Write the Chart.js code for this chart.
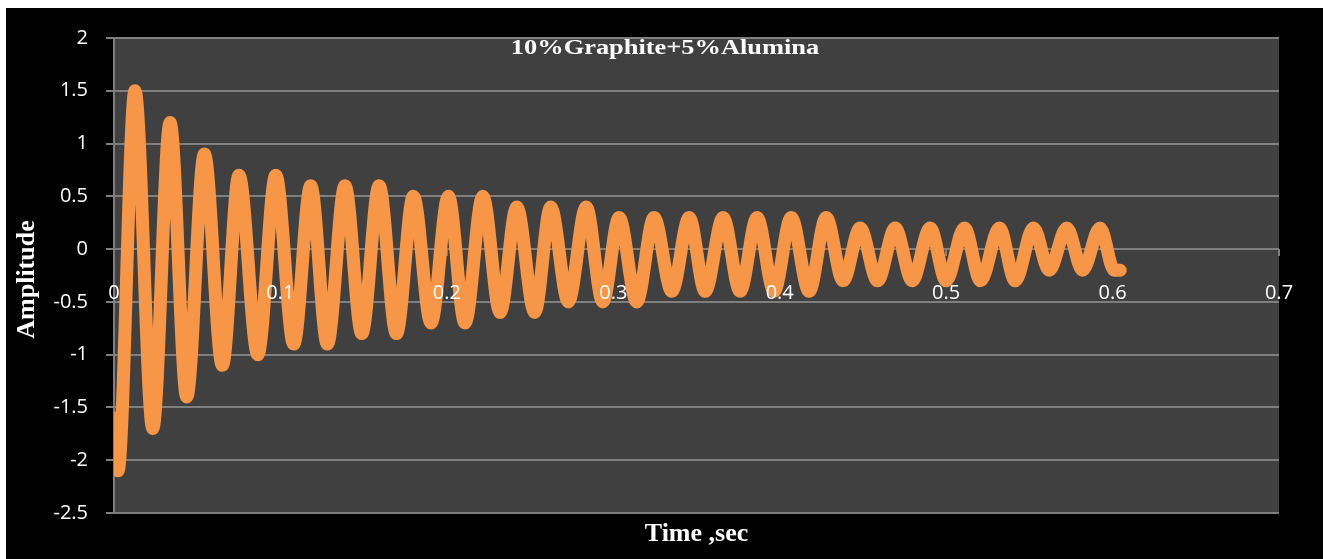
<!DOCTYPE html>
<html>
<head>
<meta charset="utf-8">
<script src="https://cdn.jsdelivr.net/npm/chart.js@4.4.1/dist/chart.umd.min.js"></script>
<style>
    body { margin: 0; background: #ffffff; }
    #wrap { position: absolute; left: 6px; top: 8px; width: 1317px; height: 551px; background: #000000; }
    canvas { display: block; }
</style>
</head>
<body>
<div id="wrap"><canvas id="chart" width="1317" height="551"></canvas></div>
<script>
// time (sec) of each peak / trough
const times = [0, 0.0024, 0.0126, 0.0233, 0.0337, 0.0437, 0.0543, 0.0651, 0.0751, 0.0864,
    0.0972, 0.108, 0.1182, 0.1282, 0.1388, 0.1489, 0.1593, 0.1697, 0.1799, 0.1905,
    0.2009, 0.2109, 0.2216, 0.232, 0.242, 0.2528, 0.2624, 0.273, 0.2837, 0.2937,
    0.3035, 0.3141, 0.3245, 0.3352, 0.3456, 0.3552, 0.366, 0.3762, 0.3864, 0.3966,
    0.4069, 0.4177, 0.4279, 0.4381, 0.4483, 0.4588, 0.4694, 0.4796, 0.4904, 0.5,
    0.511, 0.5207, 0.532, 0.5415, 0.5525, 0.5619, 0.5725, 0.582, 0.5925, 0.601, 0.6046];
// amplitude at those times
const amplitude = [-1.6, -2.1, 1.5, -1.7, 1.2, -1.4, 0.9, -1.1, 0.7, -1.0,
    0.7, -0.9, 0.6, -0.9, 0.6, -0.8, 0.6, -0.8, 0.5, -0.7,
    0.5, -0.7, 0.5, -0.6, 0.4, -0.6, 0.4, -0.5, 0.4, -0.5,
    0.3, -0.5, 0.3, -0.4, 0.3, -0.4, 0.3, -0.4, 0.3, -0.4,
    0.3, -0.4, 0.3, -0.3, 0.2, -0.3, 0.2, -0.3, 0.2, -0.3,
    0.2, -0.3, 0.2, -0.3, 0.2, -0.2, 0.2, -0.2, 0.2, -0.2, -0.2];

const chartTitle = "10%Graphite+5%Alumina";
const xTitle = "Time ,sec";
const yTitle = "Amplitude";

const points = times.map((t, i) => ({ x: t, y: amplitude[i] }));

const gridGray = "#7f7f7f";
const tickFont = { family: "'Open Sans', sans-serif", size: 20 };

// plot background + texts drawn in the canvas
const decor = {
    id: "decor",
    beforeDraw(chart) {
        const { ctx, chartArea: a } = chart;
        ctx.save();
        ctx.fillStyle = "#404040";
        ctx.fillRect(a.left, a.top, a.right - a.left, a.bottom - a.top);
        ctx.restore();
    },
    afterDraw(chart) {
        const { ctx, chartArea: a } = chart;
        ctx.save();
        ctx.fillStyle = "#ffffff";
        ctx.textAlign = "center";
        ctx.textBaseline = "middle";

        // title is a bit wider than the font, as in the picture
        ctx.save();
        ctx.translate(a.left + (a.right - a.left) * 0.473, a.top + 10);
        ctx.scale(1.2, 1);
        ctx.font = "bold 22px 'Liberation Serif', serif";
        ctx.fillText(chartTitle, 0, 0);
        ctx.restore();

        ctx.font = "bold 26px 'Liberation Serif', serif";
        ctx.fillText(xTitle, (a.left + a.right) / 2, a.bottom + 21);
        ctx.translate(21, (a.top + a.bottom) / 2 + 4);
        ctx.rotate(-Math.PI / 2);
        ctx.fillText(yTitle, 0, 0);
        ctx.restore();
    }
};

new Chart(document.getElementById("chart"), {
    type: "line",
    data: {
        datasets: [{
            data: points,
            borderColor: "#f79646",
            borderWidth: 13,
            borderCapStyle: "round",
            borderJoinStyle: "round",
            pointRadius: 0,
            cubicInterpolationMode: "monotone",
            fill: false
        }]
    },
    options: {
        responsive: false,
        animation: false,
        layout: { padding: { top: 29, right: 44, bottom: 46, left: 0 } },
        plugins: { legend: { display: false }, tooltip: { enabled: false } },
        scales: {
            x: {
                type: "linear",
                position: { y: 0 },
                min: 0,
                max: 0.7,
                border: { display: false },
                grid: { drawOnChartArea: false, tickLength: 7, color: gridGray, lineWidth: 2 },
                ticks: {
                    z: 1,
                    stepSize: 0.1,
                    color: "#ffffff",
                    font: tickFont,
                    padding: 25,
                    maxRotation: 0,
                    autoSkip: false,
                    callback: v => String(Math.round(v * 10) / 10)
                }
            },
            y: {
                min: -2.5,
                max: 2,
                afterFit: s => { s.width = 108; },
                border: { display: true, color: gridGray, width: 2 },
                grid: { color: gridGray, lineWidth: 2, tickLength: 8 },
                ticks: {
                    stepSize: 0.5,
                    color: "#ffffff",
                    font: tickFont,
                    padding: 18,
                    callback: v => String(Math.round(v * 10) / 10)
                }
            }
        }
    },
    plugins: [decor]
});
</script>
</body>
</html>
